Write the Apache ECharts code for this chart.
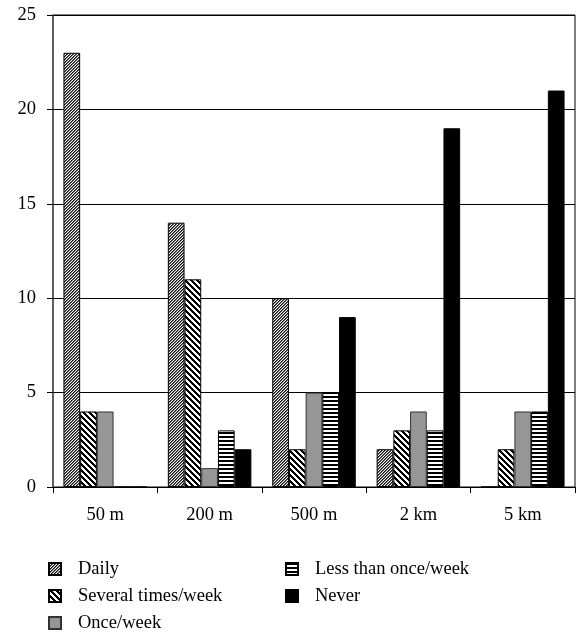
<!DOCTYPE html>
<html>
<head>
<meta charset="utf-8">
<script src="https://cdn.jsdelivr.net/npm/echarts@6/dist/echarts.min.js"></script>
<style>
html,body{margin:0;padding:0;background:#fff;}
#chart{width:576px;height:634px;}
</style>
</head>
<body>
<div id="chart"></div>
<script>
var categories = ['50 m', '200 m', '500 m', '2 km', '5 km'];
var daily = [23, 14, 10, 2, 0];
var severalTimes = [4, 11, 2, 3, 2];
var oncePerWeek = [4, 1, 5, 4, 4];
var lessThanOnce = [0, 3, 5, 3, 4];
var never = [0, 2, 9, 19, 21];
var yTicks = [0, 5, 10, 15, 20, 25];

function makePattern(size, fn) {
  var c = document.createElement('canvas');
  c.width = size; c.height = size;
  var ctx = c.getContext('2d');
  var img = ctx.createImageData(size, size);
  for (var y = 0; y < size; y++) {
    for (var x = 0; x < size; x++) {
      var v = fn(x, y);
      var i = (y * size + x) * 4;
      img.data[i] = v; img.data[i + 1] = v; img.data[i + 2] = v; img.data[i + 3] = 255;
    }
  }
  ctx.putImageData(img, 0, 0);
  return { image: c, repeat: 'repeat' };
}
var patDaily = makePattern(3, function (x, y) {
  var k = (x + y) % 3;
  return k === 0 ? 20 : (k === 1 ? 110 : 245);
});
var patSeveral = makePattern(6, function (x, y) {
  var k = ((x - y) % 6 + 6) % 6;
  return k < 3 ? 0 : 255;
});
var patLess = makePattern(4, function (x, y) {
  return (y % 4) < 2 ? 0 : 255;
});

var font = '"Liberation Serif", "DejaVu Serif", serif';
var fs = 18.5;
var chart = echarts.init(document.getElementById('chart'));

function bar(name, data, color, border) {
  return {
    name: name, type: 'bar', data: data,
    barGap: '0%', barCategoryGap: '20%',
    itemStyle: { color: color, borderColor: border || '#000', borderWidth: 1 },
    emphasis: { disabled: true }
  };
}

var legendCommon = {
  orient: 'vertical', top: 559, padding: 0, height: 80,
  icon: 'rect', itemWidth: 12, itemHeight: 12, itemGap: 7,
  textStyle: { fontFamily: font, fontSize: fs, color: '#000', lineHeight: 20, padding: [0, 0, 0, 12] }
};

chart.setOption({
  animation: false,
  backgroundColor: '#fff',
  grid: { left: 53, right: 1, top: 15, bottom: 147, show: true, borderColor: '#000', borderWidth: 1 },
  legend: [
    Object.assign({ data: ['Daily', 'Several times/week', 'Once/week'], left: 48 }, legendCommon),
    Object.assign({ data: ['Less than once/week', 'Never'], left: 285 }, legendCommon)
  ],
  xAxis: {
    type: 'category', data: categories,
    axisLine: { lineStyle: { color: '#000', width: 1 } },
    axisTick: { show: true, length: 6, lineStyle: { color: '#000' } },
    axisLabel: { fontFamily: font, fontSize: fs, color: '#000', margin: 19 }
  },
  yAxis: {
    type: 'value', min: yTicks[0], max: yTicks[yTicks.length - 1], interval: yTicks[1] - yTicks[0],
    axisLine: { show: true, lineStyle: { color: '#555', width: 1.5 } },
    axisTick: { show: true, length: 6, lineStyle: { color: '#000' } },
    axisLabel: { fontFamily: font, fontSize: fs, color: '#000', margin: 17 },
    splitLine: { show: true, lineStyle: { color: '#000', width: 1 } }
  },
  series: [
    bar('Daily', daily, patDaily),
    bar('Several times/week', severalTimes, patSeveral),
    bar('Once/week', oncePerWeek, '#969696', '#333'),
    bar('Less than once/week', lessThanOnce, patLess),
    bar('Never', never, '#000')
  ]
});
</script>
</body>
</html>
